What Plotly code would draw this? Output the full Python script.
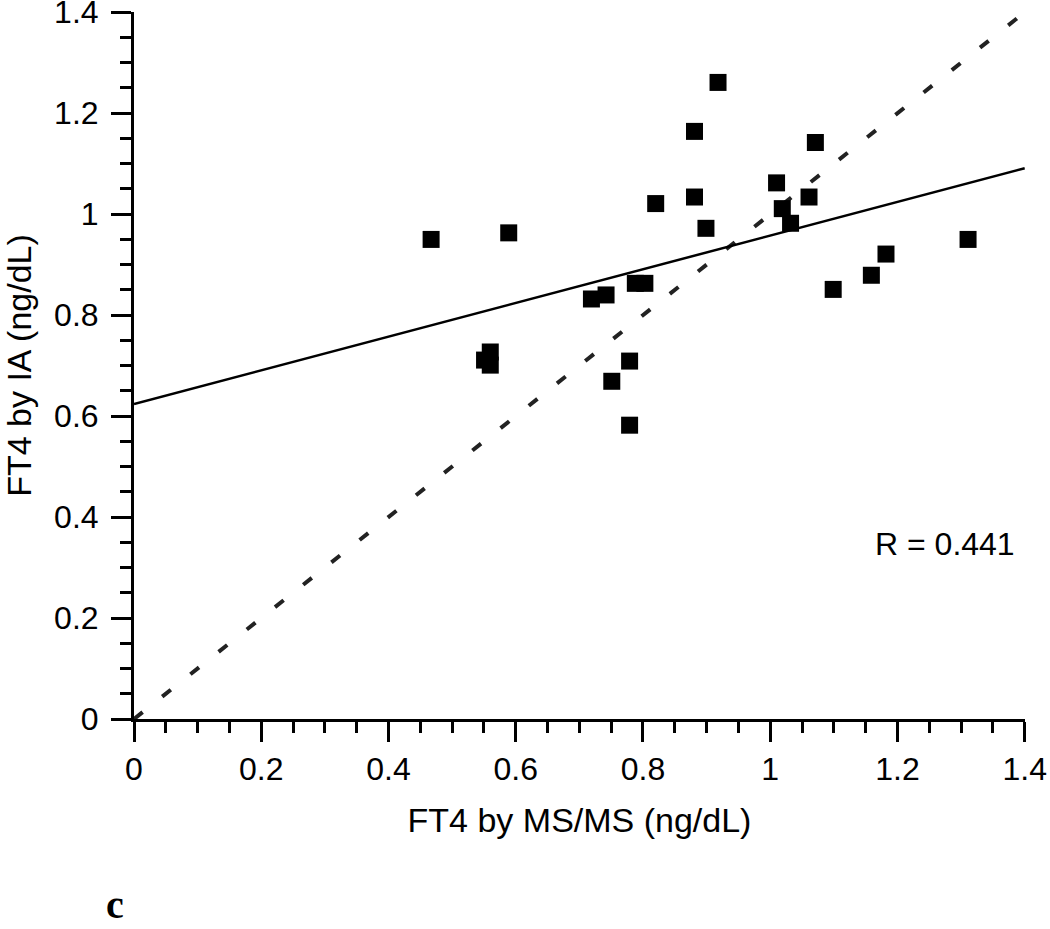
import plotly.graph_objects as go

# Data
ms_ms = [0.918, 0.881, 1.010, 0.881, 0.820, 1.019, 1.032, 0.899, 0.467, 0.589,
         0.788, 0.803, 0.719, 0.742, 0.551, 0.560, 0.560, 0.779, 0.751, 0.779,
         1.071, 1.061, 1.311, 1.182, 1.159, 1.099]
ia = [1.261, 1.164, 1.062, 1.034, 1.021, 1.011, 0.982, 0.972, 0.950, 0.963,
      0.863, 0.863, 0.832, 0.840, 0.711, 0.727, 0.701, 0.709, 0.669, 0.582,
      1.142, 1.034, 0.950, 0.921, 0.879, 0.851]

fit_x = [0.0, 1.4]
fit_y = [0.624, 1.091]
identity_x = [0.0, 1.4]
identity_y = [0.0, 1.4]

x_ticks = [0, 0.2, 0.4, 0.6, 0.8, 1, 1.2, 1.4]
x_tick_labels = ["0", "0.2", "0.4", "0.6", "0.8", "1", "1.2", "1.4"]
y_ticks = [0, 0.2, 0.4, 0.6, 0.8, 1, 1.2, 1.4]
y_tick_labels = ["0", "0.2", "0.4", "0.6", "0.8", "1", "1.2", "1.4"]
r_text = "R = 0.441"
panel_label = "c"

FONT = "Liberation Sans, Arial, sans-serif"

fig = go.Figure()
fig.add_trace(go.Scatter(x=identity_x, y=identity_y, mode="lines",
                         line=dict(color="#222", width=4, dash="11px,25px"),
                         showlegend=False, hoverinfo="skip"))
fig.add_trace(go.Scatter(x=fit_x, y=fit_y, mode="lines",
                         line=dict(color="black", width=2.5),
                         showlegend=False, hoverinfo="skip"))
fig.add_trace(go.Scatter(x=ms_ms, y=ia, mode="markers",
                         marker=dict(symbol="square", size=17, color="black",
                                     line=dict(width=0)),
                         showlegend=False))

axis_common = dict(
    showgrid=False, zeroline=False, showline=True, automargin=False,
    linecolor="black", linewidth=3, ticks="outside", ticklen=20, tickwidth=3,
    tickcolor="black", tickfont=dict(family=FONT, size=32, color="black"),
    ticklabeloverflow="allow",
    minor=dict(dtick=0.05, ticks="outside", ticklen=11, tickwidth=3, tickcolor="black"),
)

fig.update_layout(
    width=1050, height=929,
    margin=dict(l=134, r=25, t=12, b=210),
    plot_bgcolor="white", paper_bgcolor="white",
    xaxis=dict(**axis_common, range=[0, 1.4005], tickvals=x_ticks, ticktext=x_tick_labels,
               title=dict(text="FT4 by MS/MS (ng/dL)", standoff=22,
                          font=dict(family=FONT, size=34, color="black"))),
    yaxis=dict(**axis_common, range=[0, 1.4005], tickvals=y_ticks, ticktext=y_tick_labels,
               ticklabelstandoff=6,
               title=dict(text="FT4 by IA (ng/dL)", standoff=20,
                          font=dict(family=FONT, size=34, color="black"))),
    annotations=[
        dict(x=1.275, y=0.346, xref="x", yref="y", text=r_text, showarrow=False,
             font=dict(family=FONT, size=32, color="black")),
        dict(x=(115 - 134) / (1025 - 134), y=(719 - 929) / (719 - 12),
             xref="paper", yref="paper", text="<b>" + panel_label + "</b>", showarrow=False,
             xanchor="center", yanchor="bottom",
             font=dict(family="Liberation Serif, Times New Roman, serif", size=40, color="black")),
    ],
)

fig.write_html("out.html",
               config={"displayModeBar": False},
               post_script="document.body.style.margin='0';document.body.style.overflow='hidden';")
